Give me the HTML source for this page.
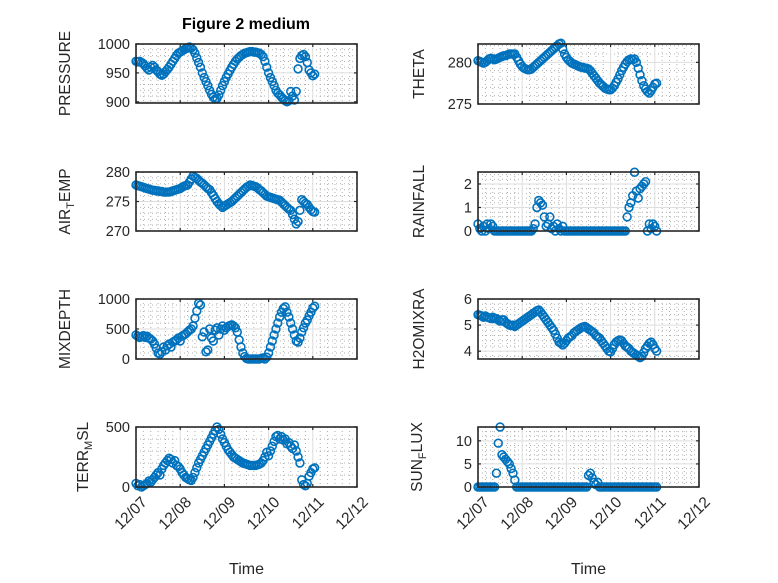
<!DOCTYPE html>
<html><head><meta charset="utf-8"><style>
html,body{margin:0;padding:0;background:#fff;}
svg{display:block;font-family:"Liberation Sans",sans-serif;}
</style></head><body>
<svg id="fig" width="778" height="583" viewBox="0 0 778 583" xmlns="http://www.w3.org/2000/svg">
<rect width="778" height="583" fill="#fff"/>
<text x="246" y="29" text-anchor="middle" font-size="16" font-weight="bold" fill="#000">Figure 2 medium</text>
</svg>
<script>
const xTickLabels = ["12/07","12/08","12/09","12/10","12/11","12/12"];
const hourStep = 1/24;
const pressure = [970,969,970,968,966,962,958,955,960,963,960,955,952,948,946,948,952,956,960,965,970,975,980,984,986,988,990,992,993,995,993,990,984,976,968,960,950,942,935,928,920,913,908,905,906,912,920,928,935,942,948,954,960,965,970,974,977,980,982,984,985,986,987,987,986,986,985,984,982,978,970,960,950,942,935,928,920,915,912,908,905,902,900,902,918,910,903,918,957,975,980,982,978,968,955,950,945,948];
const theta = [280.2,280.1,280.0,279.9,280.0,280.2,280.4,280.5,280.4,280.3,280.4,280.5,280.6,280.7,280.8,280.8,280.9,281.0,281.0,281.0,281.0,280.6,280.2,279.8,279.5,279.3,279.2,279.1,279.1,279.2,279.4,279.6,279.8,280.0,280.2,280.4,280.6,280.8,281.0,281.2,281.4,281.6,281.8,282.0,282.2,282.3,281.6,281.0,280.6,280.3,280.1,279.9,279.8,279.7,279.6,279.5,279.4,279.4,279.3,279.3,279.2,279.0,278.7,278.4,278.1,277.8,277.5,277.3,277.1,276.9,276.8,276.7,276.7,276.9,277.2,277.6,278.0,278.5,279.0,279.4,279.8,280.1,280.3,280.4,280.3,280.4,280.0,279.3,278.5,277.8,277.2,276.8,276.5,276.3,276.6,277.0,277.4,277.5];
const airTemp = [277.8,277.7,277.6,277.5,277.4,277.3,277.2,277.1,277.0,276.9,276.9,276.8,276.8,276.7,276.7,276.6,276.6,276.6,276.6,276.7,276.8,276.9,277.0,277.1,277.2,277.4,277.6,277.7,277.8,278.3,278.8,279.3,279.1,278.9,278.6,278.3,278.1,277.8,277.5,277.2,277.0,276.5,276.0,275.5,275.0,274.6,274.3,274.0,274.2,274.4,274.6,274.8,275.0,275.3,275.6,275.9,276.2,276.5,276.8,277.1,277.4,277.6,277.8,277.7,277.6,277.5,277.3,277.0,276.8,276.5,276.2,275.9,275.8,275.7,275.6,275.5,275.4,275.3,275.2,274.9,274.6,274.3,274.0,273.7,273.5,272.8,272.0,271.2,271.6,273.5,275.3,275.0,274.7,274.5,274.0,273.6,273.3,273.2];
const rainfall = [0.3,0.1,0,0.2,0,0.3,0.1,0.3,0.2,0,0,0,0,0,0,0,0,0,0,0,0,0,0,0,0,0,0,0,0,0,0.1,0.3,1.0,1.3,1.2,1.1,0.6,0.2,0.3,0.6,0.1,0.2,0,0.3,0.1,0,0.2,0,0,0,0,0,0,0,0,0,0,0,0,0,0,0,0,0,0,0,0,0,0,0,0,0,0,0,0,0,0,0,0,0,0,0.6,1.0,1.2,1.5,2.5,1.7,1.4,1.8,1.9,2.0,2.1,0,0.3,0.1,0.3,0.2,0];
const mixDepth = [400,380,360,370,390,360,380,350,330,300,250,180,100,80,120,200,150,220,250,200,280,300,320,350,300,380,400,420,450,480,500,550,680,800,930,900,370,450,120,150,500,350,300,480,520,400,500,550,480,520,540,560,570,550,520,450,320,200,100,40,10,0,0,0,0,0,0,0,10,20,0,30,100,200,300,400,500,600,700,780,840,870,780,700,600,500,400,300,280,350,450,520,600,650,720,780,850,880];
const h2oMix = [5.4,5.38,5.35,5.3,5.35,5.3,5.28,5.25,5.3,5.25,5.25,5.2,5.15,5.2,5.2,5.1,5.05,5.0,4.98,5.0,4.95,5.0,5.05,5.1,5.15,5.2,5.25,5.3,5.35,5.4,5.45,5.5,5.55,5.58,5.5,5.4,5.3,5.2,5.1,5.0,4.9,4.8,4.65,4.5,4.35,4.3,4.24,4.3,4.4,4.5,4.55,4.6,4.7,4.75,4.8,4.85,4.9,4.93,4.95,4.9,4.85,4.8,4.75,4.7,4.6,4.55,4.5,4.4,4.3,4.2,4.1,4.0,3.97,4.1,4.25,4.35,4.4,4.43,4.4,4.3,4.2,4.15,4.1,4.0,3.95,3.9,3.85,3.8,3.75,3.8,3.95,4.1,4.2,4.3,4.35,4.25,4.1,4.0];
const terrMsl = [30,10,20,0,10,20,30,50,40,60,80,100,120,100,150,180,200,220,240,230,200,220,180,170,150,120,100,80,70,60,55,80,120,160,200,230,260,290,320,350,380,410,440,470,500,480,440,400,370,340,310,290,270,250,240,230,220,210,200,195,190,185,180,180,180,180,185,190,200,220,250,290,260,300,340,380,420,430,400,420,390,400,360,370,340,320,350,300,250,200,60,20,10,30,90,120,150,160];
const sunFlux = [0,0,0,0,0,0,0,0,0,0,3.0,9.5,13,7,6.5,6,5.5,5,4,3,1.5,0,0,0,0,0,0,0,0,0,0,0,0,0,0,0,0,0,0,0,0,0,0,0,0,0,0,0,0,0,0,0,0,0,0,0,0,0,0,0,2.5,3.0,2,1,0.5,1.0,0,0,0,0,0,0,0,0,0,0,0,0,0,0,0,0,0,0,0,0,0,0,0,0,0,0,0,0,0,0,0,0];

const NS="http://www.w3.org/2000/svg";
const svg=document.getElementById('fig');
function mk(tag,attrs,parent){const e=document.createElementNS(NS,tag);for(const k in attrs)e.setAttribute(k,attrs[k]);(parent||svg).appendChild(e);return e;}

const panels=[
 {name:"pressure",data:pressure,x0:136,x1:357,y0:44,y1:103,ymin:898,ymax:1000,ticks:[900,950,1000],minor:10,label:["PRESSURE"],lx:66},
 {name:"theta",data:theta,x0:478,x1:699,y0:44,y1:104,ymin:275,ymax:282.2,ticks:[275,280],minor:1,label:["THETA"],lx:420},
 {name:"air-temp",data:airTemp,x0:136,x1:357,y0:172,y1:231,ymin:270,ymax:280,ticks:[270,275,280],minor:1,label:["AIR","T","EMP"],lx:66},
 {name:"rainfall",data:rainfall,x0:478,x1:699,y0:172,y1:231,ymin:0,ymax:2.51,ticks:[0,1,2],minor:0.2,label:["RAINFALL"],lx:420},
 {name:"mixdepth",data:mixDepth,x0:136,x1:357,y0:299,y1:359,ymin:0,ymax:1000,ticks:[0,500,1000],minor:100,label:["MIXDEPTH"],lx:66},
 {name:"h2omixra",data:h2oMix,x0:478,x1:699,y0:299,y1:359,ymin:3.7,ymax:6,ticks:[4,5,6],minor:0.2,label:["H2OMIXRA"],lx:420},
 {name:"terr-msl",data:terrMsl,x0:136,x1:357,y0:427,y1:487,ymin:0,ymax:500,ticks:[0,500],minor:100,label:["TERR","M","SL"],lx:84,bottom:true},
 {name:"sun-flux",data:sunFlux,x0:478,x1:699,y0:427,y1:487,ymin:0,ymax:13,ticks:[0,5,10],minor:1,label:["SUN","F","LUX"],lx:418,bottom:true}
];

panels.forEach(p=>{
  const g=mk('g',{});
  
  
  const xs=d=>p.x0+(d/5)*(p.x1-p.x0);
  const ys=v=>p.y1-(v-p.ymin)/(p.ymax-p.ymin)*(p.y1-p.y0);
  mk('rect',{x:p.x0,y:p.y0,width:p.x1-p.x0,height:p.y1-p.y0,fill:'#fff'},g);
  for(let i=1;i<30;i++){ if(i%6===0)continue; const x=xs(i/6);
    mk('line',{x1:x,x2:x,y1:p.y0,y2:p.y1,stroke:'#b0b0b0','stroke-width':1,'stroke-dasharray':'1,3'},g);}
  const start=Math.ceil(p.ymin/p.minor-1e-9);
  for(let k=start;k*p.minor<=p.ymax+1e-9;k++){const v=k*p.minor;
    if(p.ticks.some(t=>Math.abs(t-v)<1e-6))continue;
    const y=ys(v); mk('line',{x1:p.x0,x2:p.x1,y1:y,y2:y,stroke:'#b0b0b0','stroke-width':1,'stroke-dasharray':'1,3'},g);}
  for(let d=1;d<5;d++){const x=xs(d);mk('line',{x1:x,x2:x,y1:p.y0,y2:p.y1,stroke:'#dedede','stroke-width':1},g);}
  p.ticks.forEach(t=>{const y=ys(t);mk('line',{x1:p.x0,x2:p.x1,y1:y,y2:y,stroke:'#dedede','stroke-width':1},g);
    mk('line',{x1:p.x0,x2:p.x0+3,y1:y,y2:y,stroke:'#262626','stroke-width':1.2},g);
    mk('line',{x1:p.x1,x2:p.x1-3,y1:y,y2:y,stroke:'#262626','stroke-width':1.2},g);
    const tl=mk('text',{x:p.x0-6,y:y+5,'text-anchor':'end','font-size':14.5,fill:'#262626'},g);
    tl.textContent=t;
    
    
  });
  for(let d=0;d<=5;d++){const x=xs(d);
    mk('line',{x1:x,x2:x,y1:p.y1,y2:p.y1-3,stroke:'#262626','stroke-width':1.2},g);
    mk('line',{x1:x,x2:x,y1:p.y0,y2:p.y0+3,stroke:'#262626','stroke-width':1.2},g);
    if(p.bottom){const ax=x+12, ay=p.y1+16;
      const tl=mk('text',{x:ax,y:ay,'text-anchor':'end','font-size':15.5,fill:'#262626',transform:`rotate(-45 ${ax} ${ay})`},g);
      tl.textContent=xTickLabels[d];
      
      }
  }
  const pts=mk('g',{fill:'none',stroke:'#0072BD','stroke-width':1.6},g);
  
  
  p.data.forEach((v,i)=>{
    const c=mk('circle',{cx:xs(i*hourStep).toFixed(2),cy:ys(v).toFixed(2),r:3.9},pts);
    
    
  });
  mk('rect',{x:p.x0,y:p.y0,width:p.x1-p.x0,height:p.y1-p.y0,fill:'none',stroke:'#262626','stroke-width':1.6},g);
  const cy=(p.y0+p.y1)/2;
  const yl=mk('text',{x:p.lx,y:cy,'text-anchor':'middle','font-size':15.5,fill:'#262626',transform:`rotate(-90 ${p.lx} ${cy})`,'dominant-baseline':'middle'},g);
  
  
  if(p.label.length===1){yl.textContent=p.label[0];}
  else{
    const a=mk('tspan',{},yl);a.textContent=p.label[0];
    const b=mk('tspan',{'font-size':11,dy:5},yl);b.textContent=p.label[1];
    const c=mk('tspan',{dy:-5},yl);c.textContent=p.label[2];
  }
  if(p.bottom){
    const tt=mk('text',{x:(p.x0+p.x1)/2,y:574,'text-anchor':'middle','font-size':16,fill:'#262626'},g);
    tt.textContent='Time';
    
    
  }
});
</script>
</body></html>
